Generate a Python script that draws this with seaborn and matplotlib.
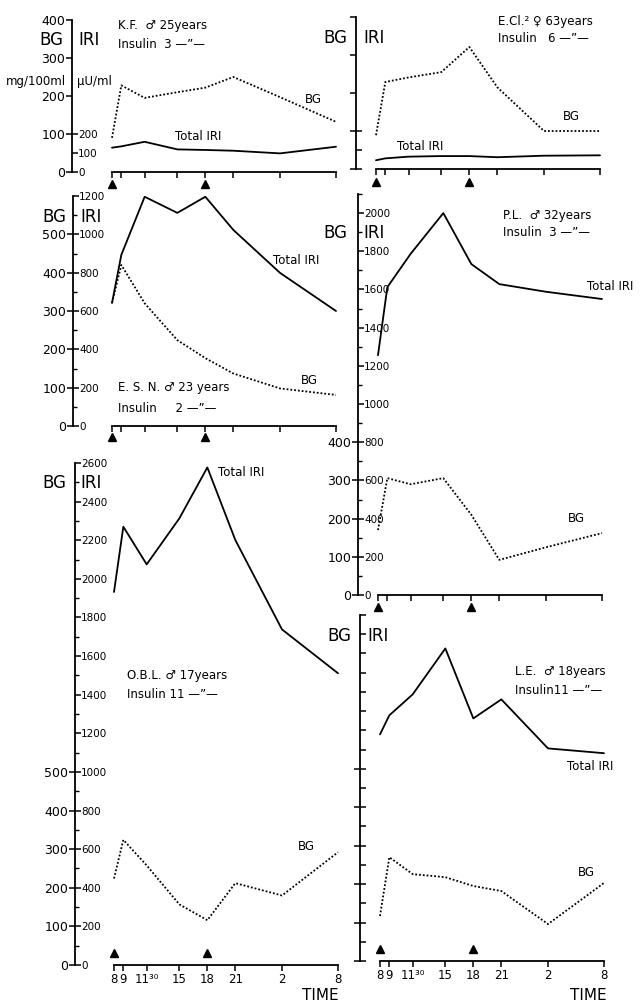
import matplotlib
matplotlib.use("Agg")
import matplotlib.pyplot as plt
import matplotlib.transforms as mtransforms
import seaborn as sns

W, H = 641, 1002

# sampling times (hours from 8 o'clock on day 1) and their labels
times = [8, 9, 11.5, 15, 18, 21, 26, 32]
time_labels = ["8", "9", "11\u00b3\u2070", "15", "18", "21", "2", "8"]
insulin_times = [8, 18]

# blood glucose (mg/100ml) and total IRI (uU/ml) per patient
kf_bg = [90, 228, 195, 210, 222, 250, 197, 132]
kf_iri = [128, 135, 159, 119, 116, 112, 98, 133]
ecl_bg = [89, 229, 241, 255, 321, 215, 100, 100]
ecl_iri = [46, 56, 65, 68, 68, 62, 70, 72]
esn_bg = [321, 420, 320, 224, 177, 137, 98, 81]
esn_iri = [642, 893, 1196, 1112, 1196, 1023, 799, 600]
pl_bg = [170, 306, 290, 306, 210, 92, 125, 162]
pl_iri = [1256, 1612, 1787, 2000, 1733, 1628, 1588, 1550]
obl_bg = [224, 324, 258, 157, 116, 212, 180, 292]
obl_iri = [1932, 2270, 2075, 2313, 2577, 2201, 1738, 1511]
le_bg = [117, 270, 226, 218, 195, 182, 96, 203]
le_iri = [1179, 1278, 1387, 1626, 1262, 1361, 1106, 1081]

sns.set_style("ticks")
plt.rcParams["font.family"] = ["DejaVu Sans"]
plt.rcParams["axes.linewidth"] = 1.3
for k in ["text.color", "axes.edgecolor", "xtick.color", "ytick.color",
          "axes.labelcolor"]:
    plt.rcParams[k] = "black"

fig = plt.figure(figsize=(W / 100, H / 100), dpi=100)
PX_PER_H = 224 / 24


def txt(x, y, s, size=8.5, **kw):
    fig.text(x / W, 1 - y / H, s, fontsize=size, va="center", ha="left", **kw)


def panel(spine_x, t8_x, top, zero, bg_max, bg, iri, bg_ticks, bg_lab,
          iri_major, iri_minor, iri_lab, xlab, tri_dy):
    xmin = 8 - (t8_x - spine_x) / PX_PER_H
    xmax = 32.5
    ax = fig.add_axes([spine_x / W, 1 - zero / H,
                       (xmax - xmin) * PX_PER_H / W, (zero - top) / H])
    ax.patch.set_alpha(0)
    sns.lineplot(x=times, y=bg, ax=ax, color="black",
                 linestyle=(0, (1, 1.1)), lw=1.3)
    ax.set_xlim(xmin, xmax)
    ax.set_ylim(0, bg_max)
    for s in ["top", "right"]:
        ax.spines[s].set_visible(False)
    ax.spines["bottom"].set_bounds(8, 32)
    ax.set_xticks(times)
    ax.set_xticklabels(time_labels if xlab else [])
    ax.tick_params(axis="x", direction="out", length=4, width=1.1,
                   labelsize=8.5, pad=2)
    ax.set_yticks(bg_ticks)
    ax.set_yticklabels([str(v) for v in bg_ticks] if bg_lab else [])
    ax.tick_params(axis="y", direction="out", length=4, width=1.1,
                   labelsize=9, pad=1)
    ax.set_xlabel("")
    ax.set_ylabel("")

    ax2 = ax.twinx()
    sns.lineplot(x=times, y=iri, ax=ax2, color="black", lw=1.3)
    ax2.set_ylim(0, 2 * bg_max)
    ax2.set_xlim(xmin, xmax)
    for s in ax2.spines.values():
        s.set_visible(False)
    ax2.yaxis.tick_left()
    ax2.set_yticks(iri_major)
    ax2.set_yticks(iri_minor, minor=True)
    ax2.set_yticklabels([str(v) for v in iri_major] if iri_lab else [])
    ax2.tick_params(axis="y", which="major", direction="in", length=4,
                    width=1.1, labelsize=7.5, pad=-4.5)
    ax2.tick_params(axis="y", which="minor", direction="in", length=3,
                    width=1)
    for lab in ax2.get_yticklabels():
        lab.set_ha("left")
    ax2.set_ylabel("")

    # insulin injection markers
    off = mtransforms.ScaledTranslation(0, tri_dy * 0.72 / 72, fig.dpi_scale_trans)
    ax.plot(insulin_times, [0] * len(insulin_times), ls="none", marker="^",
            ms=6, color="black", transform=ax.get_xaxis_transform() + off,
            clip_on=False)
    return ax


r100 = lambda a, b, s: list(range(a, b + 1, s))

# K.F.
panel(72, 112, 20, 172, 400, kf_bg, kf_iri, r100(0, 400, 100), True,
      r100(0, 200, 100), [], True, False, -12)
# E.Cl.
panel(356, 376, 17, 169, 400, ecl_bg, ecl_iri, r100(0, 400, 100), False,
      r100(0, 200, 100), [], False, False, -13)
# E.S.N.
panel(73, 112, 196, 426, 600, esn_bg, esn_iri, r100(0, 500, 100), True,
      r100(0, 1200, 200), r100(100, 1100, 200), True, False, -11)
# P.L.
panel(358, 378, 194, 595, 1050, pl_bg, pl_iri, r100(0, 400, 100), True,
      r100(0, 2000, 200), r100(100, 2100, 200), True, False, -12)
# O.B.L.
panel(75, 114, 463, 965, 1300, obl_bg, obl_iri, r100(0, 500, 100), True,
      r100(0, 2600, 200), r100(100, 2500, 200), True, True, 12)
# L.E.
panel(360, 380, 615, 961, 900, le_bg, le_iri, r100(0, 500, 100), False,
      r100(0, 1800, 100), [], False, True, 12)

# panel texts
big = 12
txt(39, 40, "BG", big)
txt(78, 40, "IRI", big)
txt(6, 81, "mg/100ml", 8.5)
txt(77, 81, "\u03bcU/ml", 8.5)
txt(118, 25, "K.F.  \u2642 25years", 8.5)
txt(118, 44, "Insulin  3 \u2014\u201d\u2014", 8.5)
txt(175, 137, "Total IRI", 8.5)
txt(305, 99, "BG", 8.5)

txt(323, 38, "BG", big)
txt(363, 38, "IRI", big)
txt(498, 21, "E.Cl.\u00b2 \u2640 63years", 8.5)
txt(498, 39, "Insulin   6 \u2014\u201d\u2014", 8.5)
txt(397, 147, "Total IRI", 8.5)
txt(563, 117, "BG", 8.5)

txt(42, 217, "BG", big)
txt(80, 217, "IRI", big)
txt(273, 260, "Total IRI", 8.5)
txt(301, 381, "BG", 8.5)
txt(118, 388, "E. S. N. \u2642 23 years", 8.5)
txt(118, 408, "Insulin     2 \u2014\u201d\u2014", 8.5)

txt(323, 233, "BG", big)
txt(363, 233, "IRI", big)
txt(503, 215, "P.L.  \u2642 32years", 8.5)
txt(503, 233, "Insulin  3 \u2014\u201d\u2014", 8.5)
txt(587, 287, "Total IRI", 8.5)
txt(568, 519, "BG", 8.5)

txt(42, 483, "BG", big)
txt(80, 483, "IRI", big)
txt(218, 472, "Total IRI", 8.5)
txt(127, 675, "O.B.L. \u2642 17years", 8.5)
txt(127, 694, "Insulin 11 \u2014\u201d\u2014", 8.5)
txt(298, 847, "BG", 8.5)
txt(302, 995, "TIME", 11)

txt(327, 636, "BG", big)
txt(367, 636, "IRI", big)
txt(515, 672, "L.E.  \u2642 18years", 8.5)
txt(515, 691, "Insulin11 \u2014\u201d\u2014", 8.5)
txt(567, 767, "Total IRI", 8.5)
txt(578, 872, "BG", 8.5)
txt(570, 995, "TIME", 11)

fig.savefig("out.png", dpi=100)
